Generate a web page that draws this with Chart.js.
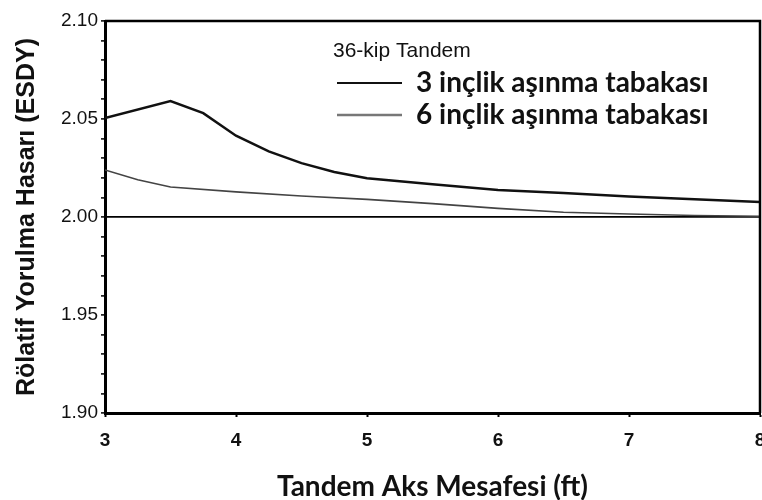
<!DOCTYPE html>
<html>
<head>
<meta charset="utf-8">
<script src="https://cdn.jsdelivr.net/npm/chart.js@4.4.1/dist/chart.umd.min.js"></script>
<style>
    html, body { margin: 0; padding: 0; background: #fff; }
    #wrap { width: 762px; height: 500px; }
</style>
</head>
<body>
<div id="wrap"><canvas id="fatigue-chart" width="762" height="500"></canvas></div>
<script>
// values
const spacingThin = [3, 3.5, 3.75, 4, 4.25, 4.5, 4.75, 5, 5.5, 6, 6.5, 7, 7.5, 8];
const damageThin = [2.0505, 2.0592, 2.053, 2.0415, 2.0335, 2.0275, 2.023, 2.0198, 2.0167, 2.0138, 2.0122, 2.0105, 2.009, 2.0077];

const spacingThick = [3, 3.25, 3.5, 4, 4.5, 5, 5.5, 6, 6.5, 7, 7.5, 8];
const damageThick = [2.024, 2.019, 2.0153, 2.0128, 2.0107, 2.009, 2.0068, 2.0044, 2.0024, 2.0015, 2.0008, 2.0004];

const seriesLabels = ['3 inçlik aşınma tabakası', '6 inçlik aşınma tabakası'];
const legendTitle = '36-kip Tandem';
const xTitle = 'Tandem Aks Mesafesi (ft)';
const yTitle = 'Rölatif Yorulma Hasarı (ESDY)';

const toPoints = (xs, ys) => xs.map((x, i) => ({x: x, y: ys[i]}));

// legend inside the plot + the frame on top/right
const boxPlugin = {
    id: 'boxPlugin',
    afterDraw(chart) {
        const ctx = chart.ctx;
        const area = chart.chartArea;
        ctx.save();
        ctx.strokeStyle = '#000';
        ctx.lineWidth = 2.5;
        ctx.beginPath();
        ctx.moveTo(area.left, area.top);
        ctx.lineTo(area.right, area.top);
        ctx.lineTo(area.right, area.bottom);
        ctx.stroke();

        ctx.fillStyle = '#111';
        ctx.textBaseline = 'middle';
        ctx.font = '21px "Liberation Sans", Arial, sans-serif';
        ctx.fillText(legendTitle, 333, 51);

        ctx.font = 'bold 28px Lato, "Open Sans", sans-serif';
        chart.data.datasets.forEach((ds, i) => {
            const y = 83 + i * 32;
            ctx.strokeStyle = i === 0 ? '#111' : '#777';
            ctx.lineWidth = i === 0 ? 2 : 2.5;
            ctx.beginPath();
            ctx.moveTo(337, y);
            ctx.lineTo(402, y);
            ctx.stroke();
            ctx.fillStyle = '#111';
            ctx.fillText(ds.label, 416, y);
        });
        ctx.restore();
    }
};

new Chart(document.getElementById('fatigue-chart').getContext('2d'), {
    type: 'line',
    data: {
        datasets: [{
            label: seriesLabels[0],
            data: toPoints(spacingThin, damageThin),
            borderColor: '#111',
            borderWidth: 2.5,
            pointRadius: 0,
            tension: 0,
            fill: false
        }, {
            label: seriesLabels[1],
            data: toPoints(spacingThick, damageThick),
            borderColor: '#444',
            borderWidth: 1.6,
            pointRadius: 0,
            tension: 0,
            fill: false
        }]
    },
    options: {
        responsive: false,
        animation: false,
        layout: {
            padding: {left: 0, top: 21, right: 2, bottom: 0}
        },
        plugins: {
            legend: {display: false},
            tooltip: {enabled: false}
        },
        scales: {
            x: {
                type: 'linear',
                min: 3,
                max: 8,
                ticks: {
                    stepSize: 1,
                    color: '#111',
                    padding: 12,
                    maxRotation: 0,
                    font: {family: '"Liberation Sans", Arial, sans-serif', size: 19, weight: 'bold'}
                },
                grid: {
                    drawOnChartArea: false,
                    tickLength: 4,
                    tickColor: '#000',
                    tickWidth: 2
                },
                border: {color: '#000', width: 3},
                title: {
                    display: true,
                    text: xTitle,
                    color: '#111',
                    padding: {top: 0, bottom: 0},
                    font: {family: 'Lato, "Open Sans", sans-serif', size: 28, weight: 'bold', lineHeight: 0.9}
                },
                afterFit: (scale) => {
                    scale.height = 87;
                    scale.paddingLeft = 0;
                    scale.paddingRight = 0;
                }
            },
            y: {
                min: 1.9,
                max: 2.1,
                ticks: {
                    stepSize: 0.01,
                    autoSkip: false,
                    color: '#111',
                    padding: 3,
                    font: {family: '"Liberation Sans", Arial, sans-serif', size: 19},
                    callback: (value) => Math.round(value * 100) % 5 === 0 ? value.toFixed(2) : ''
                },
                grid: {
                    color: (ctx) => ctx.tick && Math.abs(ctx.tick.value - 2.0) < 1e-6 ? '#000' : 'rgba(0,0,0,0)',
                    lineWidth: 1.8,
                    tickLength: 4,
                    tickColor: '#000',
                    tickWidth: 1.5
                },
                border: {color: '#000', width: 3},
                title: {
                    display: true,
                    text: yTitle,
                    color: '#111',
                    padding: {top: 15, bottom: 0},
                    font: {family: '"Liberation Sans", Arial, sans-serif', size: 25, weight: 'bold', lineHeight: 1}
                },
                afterFit: (scale) => {
                    scale.width = 105;
                    scale.paddingTop = 0;
                    scale.paddingBottom = 0;
                }
            }
        }
    },
    plugins: [boxPlugin]
});
</script>
</body>
</html>
